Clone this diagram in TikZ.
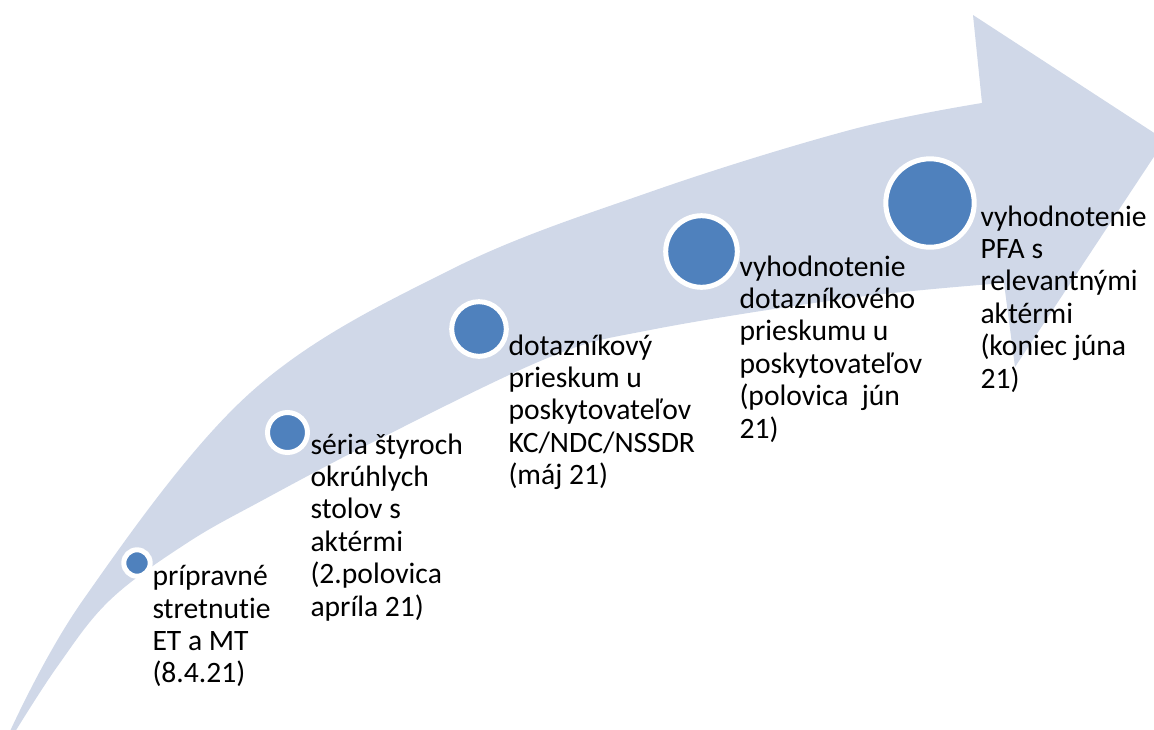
\documentclass[tikz,border=0pt]{standalone}
\usepackage{fontspec}
\setmainfont{Carlito}[Ligatures={NoCommon}]
\definecolor{bandblue}{RGB}{208,216,232}
\definecolor{dotblue}{RGB}{79,129,189}
\tikzset{every picture/.style={line width=0.75pt}}
\tikzset{
	milestone/.style={circle,fill=dotblue,draw=white,line width=3.75pt,inner sep=0pt},
	steptext/.style={anchor=north west,inner sep=0pt,align=left,font=\fontsize{22.2}{24.3}\selectfont,execute at begin node=\strut}
}

\begin{document}
\begin{tikzpicture}[x=0.75pt,y=0.75pt,yscale=-1,xscale=1]
	\useasboundingbox (0,0) rectangle (1154,729);
	
	%Shape: Curved Up Arrow [id:band]
	\begin{scope}
	\clip (0,0) rectangle (1154,729);
	\fill[bandblue] plot[smooth,tension=0.6] coordinates {(6,740) (83,600) (250,393) (450,270) (650,192) (850,130) (982,103)}
		-- (973,15) -- (1165,140) -- (1015,367) -- (1004,283)
		-- plot[smooth,tension=0.6] coordinates {(1004,283) (850,298) (650,330) (550,357) (383,437) (263,500) (187,543) (110,600) (57,667) (10,740)}
		-- cycle;
	\end{scope}
	
	%Shape: Circle [id:c1]
	\node [milestone,minimum size=19.8pt] (c1) at (137,563) {};
	%Shape: Circle [id:c2]
	\node [milestone,minimum size=30pt] (c2) at (287.5,432.5) {};
	%Shape: Circle [id:c3]
	\node [milestone,minimum size=41pt] (c3) at (479,329) {};
	%Shape: Circle [id:c4]
	\node [milestone,minimum size=53.7pt] (c4) at (701.5,251.5) {};
	%Shape: Circle [id:c5]
	\node [milestone,minimum size=66.3pt] (c5) at (930,203) {};
	
	% Text Node
	\node [steptext] (t1) at (152,565) {prípravné\\stretnutie\\ET a MT\\(8.4.21)};
	% Text Node
	\node [steptext] (t2) at (310,433) {séria štyroch\\okrúhlych\\stolov s\\aktérmi\\(2.polovica\\apríla 21)};
	% Text Node
	\node [steptext] (t3) at (508,334) {dotazníkový\\prieskum u\\poskytovateľov\\KC/NDC/NSSDR\\(máj 21)};
	% Text Node
	\node [steptext] (t4) at (739,255) {vyhodnotenie\\dotazníkového\\prieskumu u\\poskytovateľov\\(polovica~ jún\\21)};
	% Text Node
	\node [steptext] (t5) at (980,205) {vyhodnotenie\\PFA s\\relevantnými\\aktérmi\\(koniec júna\\21)};
	
\end{tikzpicture}
\end{document}
